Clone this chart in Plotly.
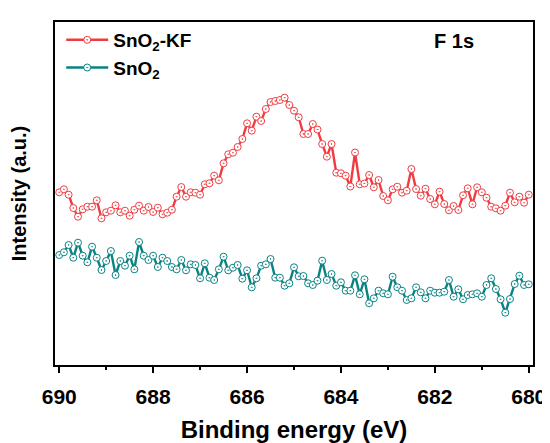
import numpy as np
import plotly.graph_objects as go

# Binding energy grid (eV), 0.1 eV steps from 690 to 680
energy = [round(690.0 - 0.1 * i, 1) for i in range(101)]

snO2_kf = [172.7, 175.7, 170.3, 157, 148.3, 155.7, 158.3, 158.3, 164.7, 146.7,
           152.7, 154.3, 159.7, 152.7, 154.3, 149.3, 155.3, 159.3, 154.3, 158,
           153, 157.3, 150.7, 152.3, 155.3, 168.3, 178, 168.3, 172.7, 172.3,
           170.3, 180.7, 181.7, 189.3, 184.7, 201.7, 210.7, 212.3, 218, 226,
           241.7, 234.3, 248.3, 244, 256, 263, 264, 265, 267.3, 260,
           254.3, 247.7, 231, 231, 241, 235.5, 221, 208.3, 221, 192.3,
           191.7, 189.3, 178.5, 212.5, 180.7, 181.5, 190, 177.7, 185, 169,
           164.7, 175.7, 178.3, 172.3, 174.3, 196, 176, 169.3, 176.3, 166,
           160.7, 173.3, 161, 154.7, 159, 155, 169.7, 176.7, 160.7, 177.7,
           172.7, 167.3, 158.3, 156.7, 154.3, 159.3, 172.3, 162.7, 168.3, 162.3,
           170.3]

snO2 = [110, 112.7, 120, 107.3, 122.3, 109.3, 102.7, 118.3, 107.3, 95,
        104, 114, 90, 104, 99.3, 109.3, 95.7, 123, 109.3, 105,
        109.3, 98, 107.3, 104, 98, 95.7, 105, 94.7, 100.7, 100,
        86.7, 101.7, 87.3, 85, 95.7, 108.3, 94.7, 97.3, 100, 86.3,
        94.7, 77.7, 86.7, 99.3, 100.7, 106, 87.3, 87.3, 79.3, 81.7,
        97.7, 88.7, 89, 81.7, 80, 84.3, 104.3, 85, 91, 79.3,
        82.7, 74.3, 74.3, 89.7, 70.7, 85.7, 61.7, 66.7, 74.3, 71.7,
        70.7, 88.3, 77.7, 74.3, 65, 66.7, 77.7, 72.7, 66.7, 74.3,
        72.3, 72.3, 73.3, 85, 68.3, 75.7, 65.7, 70, 70.7, 71.7,
        68.3, 80, 86.7, 76, 65.7, 52.3, 66, 81, 89.3, 80,
        80.7]

series_names = ["SnO<sub>2</sub>-KF", "SnO<sub>2</sub>"]
tick_vals = [690, 688, 686, 684, 682, 680]

RED = "#F03C41"
TEAL = "#0A8282"
FONT = "Arial, Liberation Sans, sans-serif"

fig = go.Figure()
for name, ys, col in [(series_names[0], snO2_kf, RED), (series_names[1], snO2, TEAL)]:
    fig.add_trace(go.Scatter(
        x=energy, y=ys, name=f"<b>{name}</b>", mode="lines+markers",
        line=dict(color=col, width=2.4),
        marker=dict(symbol="circle-dot", size=7, color="white",
                    line=dict(color=col, width=1)),
    ))

fig.add_annotation(text="<b>F 1s</b>", x=0.835, y=0.945, xref="paper", yref="paper",
                   showarrow=False, font=dict(size=20, color="black", family=FONT),
                   xanchor="center", yanchor="middle")

# page body adds an 8px offset, so the figure is sized to fit the 550x443 window
fig.update_layout(
    width=542, height=435,
    margin=dict(l=47, r=17, t=14, b=78),
    paper_bgcolor="white", plot_bgcolor="white",
    font=dict(family=FONT, color="black"),
    showlegend=True,
    legend=dict(x=0.013, y=1.003, xanchor="left", yanchor="top",
                bgcolor="rgba(0,0,0,0)", font=dict(size=19, family=FONT),
                itemwidth=42, tracegroupgap=1),
    xaxis=dict(
        range=[690.09, 679.91], tickvals=tick_vals, automargin=False,
        ticktext=[f"<b>{v}</b>" for v in tick_vals],
        tickfont=dict(size=21, family=FONT), ticklabelstandoff=6,
        ticks="outside", ticklen=6, tickwidth=2, tickcolor="black",
        minor=dict(dtick=1, ticks="outside", ticklen=3, tickwidth=1.5, tickcolor="black"),
        showline=True, linewidth=2, linecolor="black", mirror=True,
        showgrid=False, zeroline=False,
        title=dict(text="<b>Binding energy (eV)</b>", font=dict(size=24, family=FONT), standoff=16),
    ),
    yaxis=dict(
        range=[0, 343], showticklabels=False, ticks="", automargin=False,
        showline=True, linewidth=2, linecolor="black", mirror=True,
        showgrid=False, zeroline=False,
        title=dict(text="<b>Intensity (a.u.)</b>", font=dict(size=20, family=FONT), standoff=24),
    ),
)

fig.write_html("out.html")
